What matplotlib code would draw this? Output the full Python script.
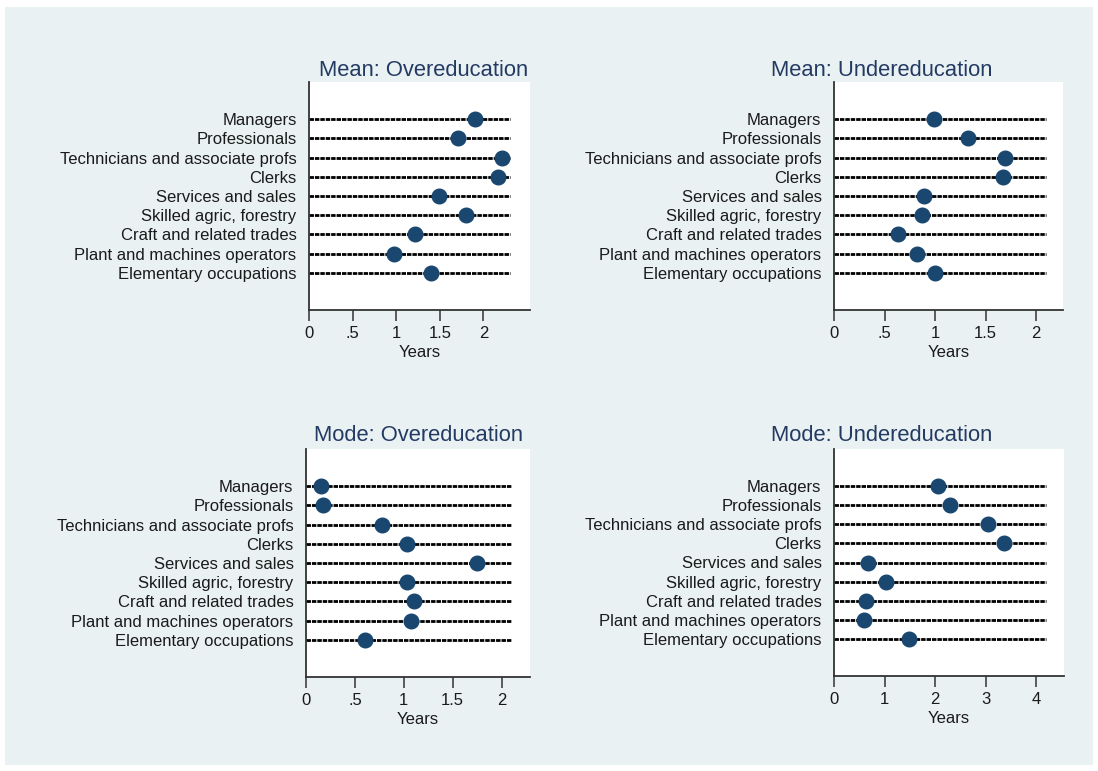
import matplotlib
matplotlib.use("Agg")
import matplotlib.pyplot as plt
from matplotlib.patches import Rectangle

plt.rcParams['font.family'] = ['Liberation Sans', 'DejaVu Sans']

categories = ["Managers", "Professionals", "Technicians and associate profs", "Clerks",
              "Services and sales", "Skilled agric, forestry", "Craft and related trades",
              "Plant and machines operators", "Elementary occupations"]

mean_over = [1.90, 1.71, 2.21, 2.17, 1.49, 1.80, 1.21, 0.98, 1.40]
mean_under = [0.99, 1.33, 1.69, 1.67, 0.89, 0.87, 0.63, 0.82, 1.00]
mode_over = [0.15, 0.17, 0.78, 1.03, 1.75, 1.03, 1.10, 1.07, 0.60]
mode_under = [2.05, 2.30, 3.04, 3.37, 0.67, 1.02, 0.63, 0.59, 1.48]

titles = ["Mean: Overeducation", "Mean: Undereducation", "Mode: Overeducation", "Mode: Undereducation"]
series = [mean_over, mean_under, mode_over, mode_under]
line_ends = [2.31, 2.10, 2.10, 4.20]
xlims = [2.534, 2.267, 2.29, 4.55]
xticks = [[0, 0.5, 1, 1.5, 2], [0, 0.5, 1, 1.5, 2], [0, 0.5, 1, 1.5, 2], [0, 1, 2, 3, 4]]
xticklabels = [["0", ".5", "1", "1.5", "2"], ["0", ".5", "1", "1.5", "2"],
               ["0", ".5", "1", "1.5", "2"], ["0", "1", "2", "3", "4"]]

W, H = 1098, 771
fig = plt.figure(figsize=(W / 100, H / 100), dpi=100, facecolor="white")
bg = fig.add_axes([0, 0, 1, 1], zorder=-10)
bg.set_xlim(0, W)
bg.set_ylim(H, 0)
bg.axis("off")
bg.add_patch(Rectangle((5, 7), 1093 - 5, 765 - 7, facecolor="#EAF1F3", edgecolor="none"))

# panel boxes in pixels: left, top, right, bottom
boxes = [(309, 82, 530, 310), (834, 82, 1063, 310), (306, 449, 530, 677), (834, 449, 1064, 676)]
# title anchor (center x, baseline y) in pixels
title_pos = [(423.5, 75.5), (882, 75.5), (418, 441), (882, 441)]

navy = "#1a476f"
fs = 12.0
for k in range(4):
    l, t, r, b = boxes[k]
    ax = fig.add_axes([l / W, 1 - b / H, (r - l) / W, (b - t) / H])
    ax.set_facecolor("white")
    ypos = list(range(len(categories)))
    for i, v in enumerate(series[k]):
        ax.plot([0, line_ends[k]], [i, i], color="black", lw=2.0,
                linestyle=(0, (1.6, 0.35)), zorder=2, solid_capstyle="butt")
        ax.plot([v], [i], marker="o", markersize=10.5, color=navy,
                markeredgecolor=navy, zorder=3, linestyle="none")
    ax.set_ylim(len(categories) - 1 + 1.93, -1.93)
    ax.set_xlim(0, xlims[k])
    ax.set_yticks(ypos)
    ax.set_yticklabels(categories, fontsize=fs, color="#1a1a1a")
    ax.tick_params(axis="y", length=0, pad=9)
    ax.set_xticks(xticks[k])
    ax.set_xticklabels(xticklabels[k], fontsize=fs, color="#1a1a1a")
    ax.tick_params(axis="x", length=8, width=1.1, color="#333333", pad=3.5)
    for s in ["top", "right"]:
        ax.spines[s].set_visible(False)
    for s in ["left", "bottom"]:
        ax.spines[s].set_color("#333333")
        ax.spines[s].set_linewidth(1.3)
    ax.set_xlabel("Years", fontsize=fs, color="#1a1a1a", labelpad=3)
    tx, ty = title_pos[k]
    fig.text(tx / W, 1 - ty / H, titles[k], fontsize=15.8, color="#233a63",
             ha="center", va="baseline")

fig.savefig("out.png", dpi=100, facecolor="white")
